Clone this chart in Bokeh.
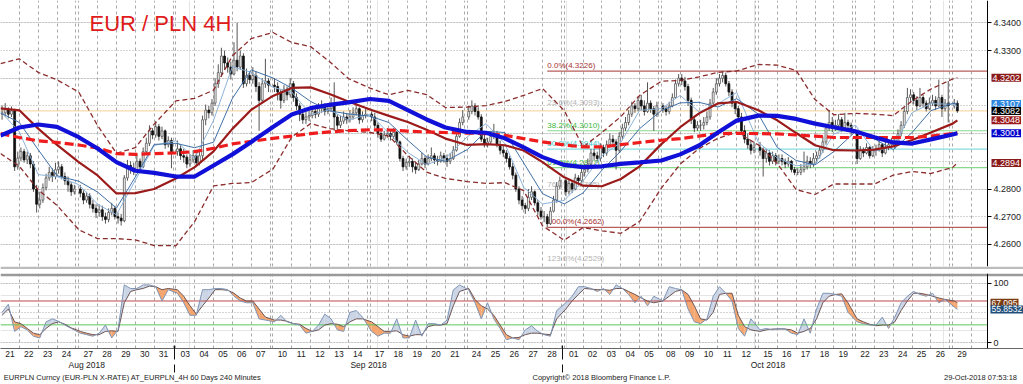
import pandas as pd
from bokeh.plotting import figure
from bokeh.layouts import column
from bokeh.models import (Range1d, LinearAxis, FixedTicker, CustomJSTickFormatter,
                          PrintfTickFormatter, Label, Grid, ColumnDataSource,
                          BoxAnnotation)
from bokeh.core.properties import value
from bokeh.embed import file_html
from bokeh.resources import INLINE

FONT = "Liberation Sans"

# ---------------- data ----------------
trade_days = pd.bdate_range("2018-08-21", "2018-10-29")
title_text = "EUR / PLN 4H"
first_open = 4.3070

bar_close = [
    4.3075, 4.3088, 4.3070, 4.3082, 4.2880, 4.2912,
    4.2935, 4.2905, 4.2920, 4.2890, 4.2800, 4.2745,
    4.2760, 4.2805, 4.2840, 4.2860, 4.2845, 4.2870,
    4.2880, 4.2845, 4.2830, 4.2815, 4.2790, 4.2800,
    4.2785, 4.2760, 4.2775, 4.2745, 4.2730, 4.2715,
    4.2725, 4.2700, 4.2690, 4.2715, 4.2730, 4.2700,
    4.2695, 4.2685, 4.2840, 4.2885, 4.2875, 4.2870,
    4.2900, 4.2880, 4.2935, 4.2965, 4.3010, 4.2995,
    4.3025, 4.2990, 4.3010, 4.2960, 4.2975, 4.2935,
    4.2945, 4.2920, 4.2915, 4.2890, 4.2905, 4.2920,
    4.2895, 4.2920, 4.3050, 4.3085, 4.3075, 4.3110,
    4.3180, 4.3220, 4.3280, 4.3255, 4.3240, 4.3215,
    4.3265, 4.3240, 4.3280, 4.3180, 4.3210, 4.3195,
    4.3210, 4.3170, 4.3120, 4.3180, 4.3190, 4.3175,
    4.3170, 4.3150, 4.3120, 4.3160, 4.3140, 4.3180,
    4.3130, 4.3100, 4.3070, 4.3050, 4.3060, 4.3065,
    4.3080, 4.3070, 4.3090, 4.3100, 4.3080, 4.3090,
    4.3100, 4.3060, 4.3030, 4.3045, 4.3060, 4.3050,
    4.3060, 4.3075, 4.3090, 4.3050, 4.3065, 4.3070,
    4.3060, 4.3030, 4.3000, 4.2980, 4.2995, 4.3000,
    4.2990, 4.3005, 4.2970, 4.2910, 4.2880, 4.2895,
    4.2900, 4.2880, 4.2870, 4.2890, 4.2910, 4.2890,
    4.2910, 4.2920, 4.2905, 4.2900, 4.2920, 4.2910,
    4.2900, 4.2910, 4.2940, 4.2990, 4.3040, 4.3060,
    4.3080, 4.3100, 4.3080, 4.3060, 4.2980, 4.2960,
    4.2970, 4.2990, 4.3000, 4.2960, 4.2940, 4.2930,
    4.2910, 4.2880, 4.2850, 4.2800, 4.2760, 4.2740,
    4.2730, 4.2770, 4.2790, 4.2750, 4.2720, 4.2700,
    4.2700, 4.2675, 4.2720, 4.2760, 4.2810, 4.2830,
    4.2790, 4.2820, 4.2800, 4.2840, 4.2830, 4.2860,
    4.2870, 4.2890, 4.2930, 4.2920, 4.2910, 4.2950,
    4.2930, 4.2960, 4.2980, 4.2970, 4.2940, 4.2990,
    4.3020, 4.3040, 4.3070, 4.3100, 4.3090, 4.3120,
    4.3100, 4.3080, 4.3110, 4.3090, 4.3070, 4.3100,
    4.3090, 4.3080, 4.3100, 4.3130, 4.3180, 4.3200,
    4.3190, 4.3170, 4.3120, 4.3050, 4.3020, 4.3030,
    4.3030, 4.3040, 4.3060, 4.3110, 4.3150, 4.3180,
    4.3200, 4.3210, 4.3180, 4.3150, 4.3110, 4.3090,
    4.3060, 4.3010, 4.2980, 4.2960, 4.2940, 4.2950,
    4.2940, 4.2910, 4.2930, 4.2900, 4.2920, 4.2900,
    4.2910, 4.2900, 4.2890, 4.2900, 4.2870, 4.2860,
    4.2860, 4.2870, 4.2880, 4.2900, 4.2890, 4.2910,
    4.2920, 4.2940, 4.2970, 4.3020, 4.3040, 4.3020,
    4.3030, 4.3050, 4.3020, 4.3040, 4.3030, 4.3010,
    4.2910, 4.2940, 4.2930, 4.2950, 4.2920, 4.2940,
    4.2940, 4.2960, 4.2930, 4.2950, 4.2960, 4.2970,
    4.2960, 4.3000, 4.3030, 4.3080, 4.3130, 4.3140,
    4.3120, 4.3100, 4.3130, 4.3110, 4.3090, 4.3110,
    4.3120, 4.3100, 4.3130, 4.3090, 4.3110, 4.3100,
    4.3110, 4.3082,
]
bar_high = [
    4.3102, 4.3110, 4.3095, 4.3098, 4.3090, 4.2935,
    4.2950, 4.2945, 4.2935, 4.2930, 4.2900, 4.2815,
    4.2790, 4.2820, 4.2855, 4.2880, 4.2875, 4.2895,
    4.2900, 4.2890, 4.2860, 4.2845, 4.2825, 4.2815,
    4.2815, 4.2795, 4.2790, 4.2785, 4.2760, 4.2745,
    4.2745, 4.2740, 4.2715, 4.2730, 4.2750, 4.2740,
    4.2715, 4.2710, 4.2850, 4.2905, 4.2900, 4.2895,
    4.2925, 4.2910, 4.2950, 4.2985, 4.3030, 4.3020,
    4.3045, 4.3035, 4.3025, 4.3015, 4.2990, 4.2985,
    4.2975, 4.2960, 4.2945, 4.2925, 4.2925, 4.2940,
    4.2930, 4.2935, 4.3065, 4.3105, 4.3100, 4.3125,
    4.3200, 4.3250, 4.3310, 4.3300, 4.3275, 4.3260,
    4.3330, 4.3400, 4.3300, 4.3290, 4.3235, 4.3225,
    4.3240, 4.3225, 4.3185, 4.3200, 4.3270, 4.3200,
    4.3200, 4.3185, 4.3160, 4.3175, 4.3170, 4.3200,
    4.3190, 4.3145, 4.3110, 4.3085, 4.3080, 4.3090,
    4.3100, 4.3095, 4.3110, 4.3120, 4.3110, 4.3110,
    4.3130, 4.3185, 4.3070, 4.3065, 4.3080, 4.3075,
    4.3085, 4.3095, 4.3110, 4.3095, 4.3080, 4.3090,
    4.3080, 4.3075, 4.3040, 4.3010, 4.3010, 4.3020,
    4.3015, 4.3020, 4.3010, 4.2975, 4.2920, 4.2910,
    4.2920, 4.2910, 4.2895, 4.2905, 4.2930, 4.2920,
    4.2925, 4.2950, 4.2930, 4.2920, 4.2935, 4.2930,
    4.2925, 4.2930, 4.2955, 4.3005, 4.3055, 4.3085,
    4.3100, 4.3120, 4.3110, 4.3095, 4.3070, 4.2995,
    4.2985, 4.3010, 4.3035, 4.3010, 4.2975, 4.2960,
    4.2940, 4.2920, 4.2895, 4.2860, 4.2810, 4.2775,
    4.2750, 4.2800, 4.2810, 4.2795, 4.2760, 4.2735,
    4.2720, 4.2710, 4.2735, 4.2775, 4.2825, 4.2845,
    4.2840, 4.2835, 4.2830, 4.2855, 4.2850, 4.2880,
    4.2890, 4.2910, 4.2945, 4.2945, 4.2935, 4.2965,
    4.2960, 4.2975, 4.3000, 4.2995, 4.2980, 4.3005,
    4.3035, 4.3060, 4.3085, 4.3115, 4.3110, 4.3135,
    4.3140, 4.3120, 4.3185, 4.3120, 4.3100, 4.3115,
    4.3110, 4.3100, 4.3115, 4.3145, 4.3195, 4.3215,
    4.3215, 4.3205, 4.3180, 4.3130, 4.3065, 4.3045,
    4.3050, 4.3060, 4.3080, 4.3125, 4.3165, 4.3200,
    4.3215, 4.3226, 4.3220, 4.3190, 4.3160, 4.3120,
    4.3100, 4.3075, 4.3030, 4.3000, 4.2975, 4.2970,
    4.2970, 4.2950, 4.2945, 4.2940, 4.2935, 4.2930,
    4.2925, 4.2925, 4.2910, 4.2915, 4.2905, 4.2880,
    4.2875, 4.2890, 4.2935, 4.2920, 4.2915, 4.2930,
    4.2935, 4.2955, 4.2990, 4.3035, 4.3085, 4.3060,
    4.3050, 4.3070, 4.3060, 4.3075, 4.3050, 4.3040,
    4.3015, 4.2955, 4.2950, 4.2965, 4.2955, 4.2955,
    4.2960, 4.2975, 4.2965, 4.2990, 4.2975, 4.2985,
    4.2985, 4.3015, 4.3045, 4.3095, 4.3165, 4.3160,
    4.3150, 4.3135, 4.3165, 4.3140, 4.3120, 4.3130,
    4.3140, 4.3135, 4.3195, 4.3140, 4.3125, 4.3190,
    4.3125, 4.3120,
]
bar_low = [
    4.3050, 4.3062, 4.3055, 4.3060, 4.2865, 4.2870,
    4.2900, 4.2895, 4.2890, 4.2875, 4.2790, 4.2715,
    4.2730, 4.2750, 4.2795, 4.2830, 4.2825, 4.2835,
    4.2855, 4.2835, 4.2815, 4.2790, 4.2775, 4.2780,
    4.2770, 4.2745, 4.2750, 4.2730, 4.2715, 4.2695,
    4.2700, 4.2685, 4.2675, 4.2680, 4.2705, 4.2690,
    4.2675, 4.2668, 4.2680, 4.2830, 4.2855, 4.2850,
    4.2860, 4.2865, 4.2875, 4.2925, 4.2955, 4.2980,
    4.2985, 4.2975, 4.2980, 4.2945, 4.2950, 4.2875,
    4.2920, 4.2905, 4.2895, 4.2875, 4.2880, 4.2895,
    4.2880, 4.2885, 4.2905, 4.3030, 4.3055, 4.3065,
    4.3100, 4.3165, 4.3205, 4.3230, 4.3220, 4.3195,
    4.3210, 4.3225, 4.3230, 4.3165, 4.3170, 4.3180,
    4.3180, 4.3150, 4.3010, 4.3110, 4.3165, 4.3150,
    4.3150, 4.3120, 4.3090, 4.3110, 4.3120, 4.3130,
    4.3115, 4.3085, 4.3045, 4.3035, 4.3035, 4.3045,
    4.3055, 4.3055, 4.3060, 4.3075, 4.3065, 4.3070,
    4.3080, 4.3010, 4.3015, 4.3020, 4.3035, 4.3035,
    4.3040, 4.3050, 4.3065, 4.3035, 4.3040, 4.3055,
    4.3045, 4.3020, 4.2985, 4.2970, 4.2975, 4.2985,
    4.2975, 4.2980, 4.2960, 4.2900, 4.2865, 4.2870,
    4.2880, 4.2860, 4.2855, 4.2865, 4.2885, 4.2875,
    4.2885, 4.2900, 4.2890, 4.2885, 4.2895, 4.2895,
    4.2880, 4.2890, 4.2905, 4.2935, 4.2985, 4.3030,
    4.3050, 4.3070, 4.3065, 4.3050, 4.2970, 4.2950,
    4.2950, 4.2960, 4.2980, 4.2950, 4.2925, 4.2915,
    4.2895, 4.2870, 4.2835, 4.2790, 4.2745, 4.2725,
    4.2710, 4.2720, 4.2760, 4.2740, 4.2705, 4.2690,
    4.2680, 4.2662, 4.2670, 4.2715, 4.2750, 4.2800,
    4.2775, 4.2780, 4.2785, 4.2795, 4.2815, 4.2820,
    4.2845, 4.2860, 4.2885, 4.2905, 4.2895, 4.2900,
    4.2915, 4.2920, 4.2950, 4.2955, 4.2870, 4.2930,
    4.2980, 4.3010, 4.3030, 4.3060, 4.3075, 4.3080,
    4.3085, 4.3065, 4.3075, 4.3075, 4.3010, 4.3060,
    4.3075, 4.3065, 4.3070, 4.3095, 4.3125, 4.3170,
    4.3175, 4.3155, 4.3100, 4.3035, 4.3005, 4.3010,
    4.3010, 4.3015, 4.3030, 4.3050, 4.3100, 4.3140,
    4.3170, 4.3185, 4.3170, 4.3135, 4.3095, 4.3070,
    4.3040, 4.2995, 4.2965, 4.2945, 4.2925, 4.2930,
    4.2920, 4.2845, 4.2895, 4.2885, 4.2890, 4.2885,
    4.2890, 4.2885, 4.2875, 4.2880, 4.2860, 4.2850,
    4.2850, 4.2850, 4.2860, 4.2870, 4.2875, 4.2880,
    4.2895, 4.2910, 4.2930, 4.2960, 4.3010, 4.3005,
    4.3010, 4.3020, 4.3005, 4.3015, 4.3010, 4.2995,
    4.2890, 4.2905, 4.2915, 4.2925, 4.2910, 4.2915,
    4.2920, 4.2935, 4.2915, 4.2925, 4.2940, 4.2950,
    4.2945, 4.2955, 4.2990, 4.3020, 4.3070, 4.3110,
    4.3105, 4.3085, 4.3095, 4.3095, 4.3080, 4.3085,
    4.3100, 4.3085, 4.3095, 4.3060, 4.3080, 4.3040,
    4.3090, 4.3075,
]

# indicator values at the start of each trading day, plus the value at the last bar
ma_fast_thin = [
    4.3080, 4.3006, 4.2852, 4.2844, 4.2816, 4.2745, 4.2707, 4.2831, 4.2957,
    4.2974, 4.2910, 4.3048, 4.3242, 4.3221,
    4.3167, 4.3150, 4.3069, 4.3086, 4.3049,
    4.3070, 4.3001, 4.2932, 4.2888, 4.2911,
    4.2988, 4.3036, 4.2964, 4.2806, 4.2746,
    4.2759, 4.2830, 4.2920, 4.2968, 4.3084,
    4.3090, 4.3138, 4.3078, 4.3108, 4.3148,
    4.2968, 4.2912, 4.2884, 4.2890, 4.2998,
    4.3030, 4.2936, 4.2954, 4.3076, 4.3108,
    4.3106, 4.3098,
]
ma_slow_thin = [
    4.3075, 4.3040, 4.2942, 4.2848, 4.2828, 4.2789, 4.2731, 4.2843, 4.2961,
    4.2965, 4.2949, 4.2969, 4.3127, 4.3230,
    4.3201, 4.3164, 4.3116, 4.3082, 4.3071,
    4.3063, 4.3040, 4.2976, 4.2916, 4.2900,
    4.2942, 4.3008, 4.3004, 4.2894, 4.2783,
    4.2746, 4.2786, 4.2868, 4.2937, 4.3018,
    4.3083, 4.3111, 4.3113, 4.3096, 4.3126,
    4.3070, 4.2950, 4.2903, 4.2887, 4.2935,
    4.3008, 4.2981, 4.2942, 4.3004, 4.3083,
    4.3109, 4.3107,
]
ma_dark_red = [
    4.3091, 4.3084, 4.3018, 4.2959, 4.2897, 4.2849, 4.2784, 4.2785, 4.2800,
    4.2838, 4.2879, 4.2936, 4.3017, 4.3086,
    4.3136, 4.3165, 4.3167, 4.3143, 4.3116,
    4.3087, 4.3064, 4.3042, 4.3014, 4.2982,
    4.2959, 4.2962, 4.2958, 4.2939, 4.2897,
    4.2842, 4.2812, 4.2810, 4.2836, 4.2882,
    4.2962, 4.3023, 4.3073, 4.3109, 4.3114,
    4.3084, 4.3048, 4.3002, 4.2958, 4.2940,
    4.2939, 4.2942, 4.2954, 4.2977, 4.3004,
    4.3036, 4.3048,
]
ma_blue = [
    4.2993, 4.3022, 4.3033, 4.3024, 4.2987, 4.2946, 4.2897, 4.2866, 4.2858,
    4.2845, 4.2845, 4.2885, 4.2925, 4.2970,
    4.3024, 4.3069, 4.3092, 4.3104, 4.3113,
    4.3125, 4.3118, 4.3085, 4.3051, 4.3022,
    4.3006, 4.3003, 4.2983, 4.2950, 4.2915,
    4.2887, 4.2879, 4.2882, 4.2891, 4.2896,
    4.2903, 4.2925, 4.2957, 4.3004, 4.3047,
    4.3065, 4.3064, 4.3053, 4.3036, 4.3023,
    4.3008, 4.2987, 4.2968, 4.2964, 4.2979,
    4.2997, 4.3001,
]
ma_red_dashed = [
    4.3000, 4.2986, 4.2974, 4.2968, 4.2959, 4.2948, 4.2928, 4.2925, 4.2928,
    4.2930, 4.2935, 4.2947, 4.2963, 4.2972,
    4.2983, 4.2991, 4.3000, 4.3006, 4.3011,
    4.3014, 4.3013, 4.3009, 4.3006, 4.3004,
    4.3002, 4.3000, 4.2994, 4.2982, 4.2970,
    4.2959, 4.2952, 4.2952, 4.2960, 4.2968,
    4.2976, 4.2982, 4.2991, 4.3000, 4.3001,
    4.3000, 4.2999, 4.2995, 4.2991, 4.2986,
    4.2986, 4.2986, 4.2986, 4.2986, 4.2991,
    4.3000, 4.3004,
]
bb_upper = [
    4.3253, 4.3270, 4.3221, 4.3194, 4.3150, 4.3029, 4.2929, 4.2949, 4.3034,
    4.3118, 4.3127, 4.3157, 4.3281, 4.3343,
    4.3365, 4.3329, 4.3314, 4.3260, 4.3199,
    4.3164, 4.3140, 4.3156, 4.3141, 4.3094,
    4.3096, 4.3101, 4.3116, 4.3138, 4.3163,
    4.3083, 4.2952, 4.3004, 4.3061, 4.3138,
    4.3189, 4.3192, 4.3205, 4.3221, 4.3226,
    4.3250, 4.3247, 4.3228, 4.3123, 4.3068,
    4.3073, 4.3070, 4.3065, 4.3118, 4.3161,
    4.3197, 4.3202,
]
bb_lower = [
    4.2928, 4.2882, 4.2797, 4.2741, 4.2653, 4.2621, 4.2621, 4.2616, 4.2596,
    4.2595, 4.2683, 4.2811, 4.2820, 4.2823,
    4.2872, 4.2988, 4.3036, 4.3018, 4.3010,
    4.3004, 4.2991, 4.2921, 4.2861, 4.2838,
    4.2827, 4.2820, 4.2823, 4.2794, 4.2667,
    4.2615, 4.2661, 4.2649, 4.2640, 4.2683,
    4.2803, 4.2890, 4.2946, 4.2983, 4.3005,
    4.2959, 4.2892, 4.2798, 4.2780, 4.2818,
    4.2818, 4.2818, 4.2850, 4.2863, 4.2856,
    4.2878, 4.2894,
]

# oscillator, sampled at bars 0, 2, 4 of each day (last day: bars 0, 1)
osc_k = [
    51, 64.5, 19, 27, 21.5, 11, 8, 35, 40, 36, 29.6, 24,
    16, 13.5, 11, 16, 29.6, 8, 21.5, 97, 91, 91, 97, 97, 94, 70, 89,
    83, 67, 46, 46, 89, 89, 91, 91, 89, 78, 70, 67, 67, 40, 38,
    35, 46, 35, 32, 29.6, 16, 19, 29.6, 48, 40, 21.5, 19, 51, 54, 43,
    19, 11, 16, 16, 40, 8, 8, 38, 11, 32, 32, 29.6, 38, 88.7, 97,
    88.7, 67, 40, 67, 40, 24, 5, 8, 5, 21.5, 28.5, 19, 13.5, 11, 54,
    67, 78, 94, 94, 91, 86, 91, 81, 97, 91, 81, 67, 78, 62, 78,
    70, 94, 91, 88.7, 56.5, 35, 32, 40, 78, 94, 83, 70, 24, 11, 40,
    21.5, 24, 21.5, 24, 23, 16, 13.5, 40, 16, 56.5, 83, 83, 81, 78, 51,
    35, 32, 29.6, 29.6, 43, 24, 43, 67, 78, 86, 81, 78, 83, 67, 72.6,
    60, 55.8532,
]
osc_d = [
    46, 56.5, 35, 32, 24, 16, 13.5, 24, 32, 35, 31, 25,
    19, 16, 13.5, 13.5, 19, 20, 19, 67, 86, 89, 91, 95, 94, 89, 91,
    89, 78, 62, 48, 62, 75, 89, 89, 88, 83, 75, 70, 70, 56.5, 43,
    38, 38, 36, 32, 31, 24, 19, 21.5, 29.6, 32, 31, 27, 35, 40, 40,
    35, 27, 19, 19, 20, 13.5, 11, 13.5, 13.5, 27, 29.6, 29.6, 32, 62, 86,
    91, 72.6, 62, 56.5, 46, 29.6, 13.5, 8, 9, 13.5, 16, 16, 14.5, 13.5, 40,
    56.5, 70, 81, 91, 90, 89, 89, 88, 91, 91, 86, 81, 75, 70, 67,
    70, 78, 86, 88.7, 81, 62, 40, 38, 51, 81, 83, 83, 46, 27, 21.5,
    19, 21.5, 23, 23, 23, 21.5, 16, 19, 24, 40, 67, 78, 81, 82, 67,
    40, 35, 31, 28.5, 29.6, 29.6, 35, 54, 70, 83, 83, 81, 78, 75, 72.6,
    70, 67.095,
]
osc_levels = [70, 30]

fib_high = 4.32257
fib_low = 4.26618
fib_pct = [0.0, 23.6, 38.2, 50.0, 61.8, 76.4, 100.0, 123.6]

month_names = ["Aug 2018", "Sep 2018", "Oct 2018"]
footer_texts = ["EURPLN Curncy (EUR-PLN X-RATE) AT_EURPLN_4H 60 Days 240 Minutes",
                "Copyright\u00a9 2018 Bloomberg Finance L.P.",
                "29-Oct-2018 07:53:18"]

# ---------------- positions from dates ----------------
PX_PER_DAY = 18.85
GAP = 2.85 / PX_PER_DAY          # weekend gap, in trading-day units
week_no = [(d - pd.Timestamp("2018-08-20")).days // 7 for d in trade_days]
day_start = [i + w * GAP for i, w in enumerate(week_no)]
day_end = [s + 1.0 for s in day_start]
n_bars = len(bar_close)
bar_x = [day_start[i // 6] + (i % 6 + 0.5) / 6 for i in range(n_bars)]
bar_open = [first_open] + bar_close[:-1]
ind_x = day_start + [bar_x[-1]]
osc_idx = [d * 6 + k for d in range(len(trade_days) - 1) for k in (0, 2, 4)] + [n_bars - 2, n_bars - 1]
osc_x = [bar_x[i] for i in osc_idx]

W = 1023
xr = Range1d(0, W / PX_PER_DAY)
AXIS_X = 987 / PX_PER_DAY
vgrid = sorted(set([round(v, 6) for v in day_start + day_end]))
footer_pos = [132 / PX_PER_DAY, 601 / PX_PER_DAY, 980 / PX_PER_DAY]

# ---------------- top (price) panel ----------------
p = figure(width=W, height=269, x_range=xr, y_range=Range1d(4.252022, 4.348051),
           output_backend="svg", toolbar_location=None,
           x_axis_location=None, y_axis_location=None,
           min_border_left=0, min_border_right=0, min_border_top=0, min_border_bottom=3)
p.outline_line_color = None
p.border_fill_color = "#bcbcbc"
p.background_fill_color = "white"

price_grid = [4.26, 4.27, 4.28, 4.29, 4.30, 4.31, 4.32, 4.33, 4.34]
p.add_layout(Grid(dimension=1, ticker=FixedTicker(ticks=price_grid),
                  grid_line_color="#a8a8a8", grid_line_dash="1 2"))
p.add_layout(Grid(dimension=0, ticker=FixedTicker(ticks=vgrid),
                  grid_line_color="#a8a8a8", grid_line_dash="3 3"))
p.add_layout(BoxAnnotation(left=AXIS_X, fill_color="white", fill_alpha=1.0,
                           line_color=None, level="underlay"))

pax = LinearAxis(ticker=FixedTicker(ticks=[4.26, 4.27, 4.28, 4.33, 4.34]),
                 formatter=PrintfTickFormatter(format="%.4f"), fixed_location=AXIS_X,
                 major_tick_out=4, major_tick_in=0, minor_tick_out=0, minor_tick_in=0,
                 major_label_standoff=2, major_label_text_font_size="9px",
                 major_label_text_font=FONT, major_label_text_color="#222222",
                 axis_line_color="black", major_tick_line_color="black")
p.add_layout(pax, "right")

# fibonacci retracement
fib_i = bar_low.index(min(bar_low))
fib_x0 = bar_x[fib_i]
fib_price = [fib_high - (fib_high - fib_low) * v / 100 for v in fib_pct]
fib_text = [f"{v:.1f}%({pr:.4f})" for v, pr in zip(fib_pct, fib_price)]
fib_tcol = ["#a83232", "#b4b4b4", "#3db83d", "#3cc3c8", "#3db83d", "#b4b4b4", "#a83232", "#b4b4b4"]
fib_lcol = ["#b85c5c", None, "#8ad88a", "#86dde3", "#8ad88a", None, "#b85c5c", None]
for pr, lc in zip(fib_price, fib_lcol):
    if lc:
        p.segment(x0=[fib_x0], y0=[pr], x1=[AXIS_X], y1=[pr], line_color=lc, line_width=1.2)
p.text(x=[fib_x0] * len(fib_price), y=fib_price, text=fib_text, text_color=fib_tcol,
       text_font=value(FONT), text_font_size="8px", text_baseline="bottom", y_offset=-1)

# last price line
p.segment(x0=[xr.start], y0=[bar_close[-1]], x1=[AXIS_X], y1=[bar_close[-1]],
          line_color="#f0a030", line_dash="1 1", line_width=1)

# candles
up = [c >= o for o, c in zip(bar_open, bar_close)]
cs = ColumnDataSource(dict(
    x=bar_x, hi=bar_high, lo=bar_low,
    top=[max(o, c) for o, c in zip(bar_open, bar_close)],
    bot=[min(o, c) for o, c in zip(bar_open, bar_close)],
    fill=["#ffffff" if u else "#111111" for u in up],
    line=["#555555" if u else "#111111" for u in up],
))
p.segment(x0="x", y0="lo", x1="x", y1="hi", source=cs, line_color="#555555", line_width=1)
p.vbar(x="x", width=0.6 / 6, top="top", bottom="bot", source=cs,
       fill_color="fill", line_color="line", line_width=0.8)

# indicator lines
p.line(ind_x, bb_upper, line_color="#8b2d2d", line_width=1.3, line_dash="5 3")
p.line(ind_x, bb_lower, line_color="#8b2d2d", line_width=1.3, line_dash="5 3")
p.line(ind_x, ma_fast_thin, line_color="#8db3d9", line_width=1)
p.line(ind_x, ma_slow_thin, line_color="#3f6fa6", line_width=1)
p.line(ind_x, ma_dark_red, line_color="#9b1b1b", line_width=2.2)
p.line(ind_x, ma_red_dashed, line_color="#ee1c1c", line_width=3.2, line_dash="9 4")
p.line(ind_x, ma_blue, line_color="#1010d8", line_width=4.2)

p.add_layout(Label(x=89, y=243, x_units="screen", y_units="screen", text=title_text,
                   text_font=FONT, text_font_size="22px", text_color="#e01b1b",
                   text_baseline="alphabetic"))

top_boxes = [(bb_upper[-1], "#8b1a1a"), (ma_slow_thin[-1], "#2e86de"),
             (bar_close[-1], "#000000"), (ma_dark_red[-1], "#9b1b1b"),
             (ma_blue[-1], "#0000cc"), (bb_lower[-1], "#8b1a1a")]
for v, c in top_boxes:
    p.add_layout(Label(x=AXIS_X, y=v, x_units="data", y_units="data", x_offset=4,
                       text=f"{v:.4f}", text_font=FONT, text_font_size="9px",
                       text_color="white", text_baseline="middle",
                       background_fill_color=c, padding=1))

# ---------------- lower (oscillator) panel ----------------
q = figure(width=W, height=115, x_range=xr, y_range=Range1d(-9.68, 116.13),
           output_backend="svg", toolbar_location=None,
           x_axis_location=None, y_axis_location=None,
           min_border_left=0, min_border_right=0, min_border_top=4, min_border_bottom=33)
q.outline_line_color = None
q.add_layout(Grid(dimension=1, ticker=FixedTicker(ticks=[0, 50, 100]),
                  grid_line_color="#a8a8a8", grid_line_dash="1 2"))
q.add_layout(Grid(dimension=0, ticker=FixedTicker(ticks=vgrid),
                  grid_line_color="#a8a8a8", grid_line_dash="3 3"))
q.add_layout(BoxAnnotation(left=AXIS_X, fill_color="white", fill_alpha=1.0,
                           line_color=None, level="underlay"))
q.add_layout(BoxAnnotation(bottom=111.5, fill_color="#9a9a9a", fill_alpha=1.0,
                           line_color=None, level="underlay"))

qax = LinearAxis(ticker=FixedTicker(ticks=[0, 100]), fixed_location=AXIS_X,
                 major_tick_out=4, major_tick_in=0, minor_tick_out=0, minor_tick_in=0,
                 major_label_standoff=2, major_label_text_font_size="9px",
                 major_label_text_font=FONT, major_label_text_color="#222222",
                 axis_line_color="black", major_tick_line_color="black")
q.add_layout(qax, "right")

# fills between K and D
fx, fy, fc = [], [], []
UPC, DNC = "#cbd5e5", "#f5a56e"
for i in range(len(osc_x) - 1):
    x0, x1 = osc_x[i], osc_x[i + 1]
    k0, k1, d0, d1 = osc_k[i], osc_k[i + 1], osc_d[i], osc_d[i + 1]
    e0, e1 = k0 - d0, k1 - d1
    if e0 * e1 < 0:
        t = e0 / (e0 - e1)
        xc, yc = x0 + t * (x1 - x0), k0 + t * (k1 - k0)
        fx += [[x0, xc, x0], [xc, x1, x1]]
        fy += [[k0, yc, d0], [yc, k1, d1]]
        fc += [UPC if e0 > 0 else DNC, UPC if e1 > 0 else DNC]
    else:
        fx.append([x0, x1, x1, x0])
        fy.append([k0, k1, d1, d0])
        fc.append(UPC if (e0 + e1) >= 0 else DNC)
q.patches(fx, fy, fill_color=fc, line_color=None)

q.segment(x0=[xr.start], y0=[osc_levels[0]], x1=[AXIS_X], y1=[osc_levels[0]],
          line_color="#c04848", line_width=1)
q.segment(x0=[xr.start], y0=[osc_levels[1]], x1=[AXIS_X], y1=[osc_levels[1]],
          line_color="#5cc85c", line_width=1)

q.line(osc_x, osc_d, line_color="#6e5656", line_width=1)
q.line(osc_x, osc_k, line_color="#7f94b5", line_width=1)

for v, c in [(osc_d[-1], "#7a3b12"), (osc_k[-1], "#1f4e79")]:
    q.add_layout(Label(x=AXIS_X, y=v, x_units="data", y_units="data", x_offset=3,
                       text=f"{v:.4f}".rstrip("0"), text_font=FONT, text_font_size="8.5px",
                       text_color="white", text_baseline="middle",
                       background_fill_color=c, padding=1))

# date axes
day_centers = [s + 0.5 for s in day_start]
day_labels = [d.strftime("%d") for d in trade_days]
months = sorted(set((d.year, d.month) for d in trade_days))
month_centers, month_bounds = [], []
for j, (yy, mm) in enumerate(months):
    idx = [i for i, d in enumerate(trade_days) if (d.year, d.month) == (yy, mm)]
    month_centers.append((day_start[idx[0]] + day_end[idx[-1]]) / 2)
    if j > 0:
        month_bounds.append((day_end[idx[0] - 1] + day_start[idx[0]]) / 2)

near_js = """
let best = ''; let bd = 1e9;
for (let i = 0; i < pos.length; i++) {
  const d = Math.abs(pos[i] - tick);
  if (d < bd) { bd = d; best = labs[i]; }
}
return best;
"""


def text_axis(ticks, labels, standoff, size, minor=None, minor_in=0):
    ax = LinearAxis(ticker=FixedTicker(ticks=ticks, minor_ticks=minor or []),
                    formatter=CustomJSTickFormatter(args=dict(pos=ticks, labs=labels), code=near_js),
                    major_tick_out=0, major_tick_in=0, major_tick_line_color=None,
                    minor_tick_out=0, minor_tick_in=minor_in, minor_tick_line_color="#111111",
                    major_label_standoff=standoff, major_label_text_font_size=size,
                    major_label_text_font=FONT, major_label_text_color="#222222")
    return ax


dax = text_axis(day_centers, day_labels, 2, "8.5px")
dax.axis_line_color = "#666666"
q.add_layout(dax, "below")

mon_ax = text_axis(month_centers, month_names, 0, "8.5px", minor=month_bounds, minor_in=14)
mon_ax.axis_line_color = None
q.add_layout(mon_ax, "below")

foot_ax = text_axis(footer_pos, footer_texts, 0, "7.5px", minor=month_bounds, minor_in=8)
foot_ax.axis_line_color = None
q.add_layout(foot_ax, "below")

layout = column(p, q)
open("out.html", "w").write(file_html(layout, INLINE))
